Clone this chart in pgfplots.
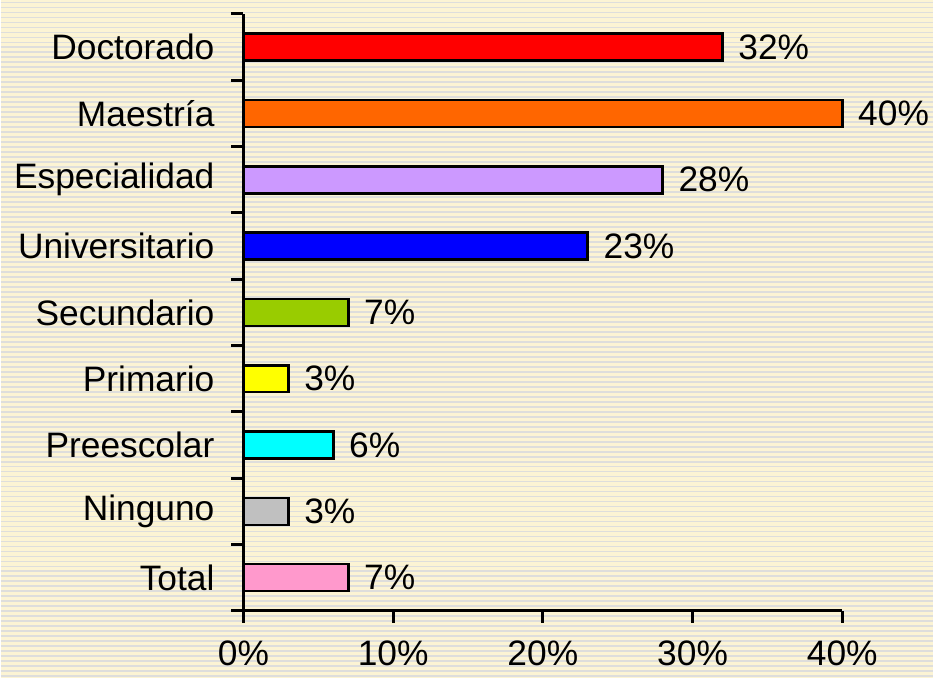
\documentclass[border=0pt]{standalone}
\usepackage{pgfplots}
\pgfplotsset{compat=1.18}
\usepackage{fontspec}
\setmainfont{Liberation Sans}
\definecolor{bgcream}{RGB}{252,244,212}
\definecolor{stripe}{RGB}{222,222,220}
\definecolor{cDoc}{RGB}{255,0,0}
\definecolor{cMae}{RGB}{255,102,0}
\definecolor{cEsp}{RGB}{204,153,255}
\definecolor{cUni}{RGB}{0,0,255}
\definecolor{cSec}{RGB}{153,204,0}
\definecolor{cPri}{RGB}{255,255,0}
\definecolor{cPre}{RGB}{0,255,255}
\definecolor{cNin}{RGB}{192,192,192}
\definecolor{cTot}{RGB}{255,153,204}
\begin{document}
\begin{tikzpicture}
\fill[bgcream] (-121.5pt,-33.5pt) rectangle (345.5pt,306pt);
\foreach \i in {0,...,135} {
  \draw[stripe, line width=0.9pt] (-121.5pt,{(306-2.5*\i-1.25)*1pt}) -- ++(467pt,0);
}
\useasboundingbox (-121.5pt,-33.5pt) rectangle (345.5pt,306pt);
\begin{axis}[
  at={(0,0)}, anchor=south west,
  scale only axis, width=300pt, height=299pt,
  xmin=0, xmax=40, ymin=-0.5, ymax=8.5,
  axis x line*=bottom, axis y line*=left,
  axis line style={line width=1.5pt, black},
  xbar, bar width=13.5pt, bar shift=0pt,
  xtick={0,10,20,30,40},
  xticklabel={\pgfmathprintnumber{\tick}\%},
  ytick={-0.5,0.5,1.5,2.5,3.5,4.5,5.5,6.5,7.5,8.5},
  yticklabels={},
  xtick align=outside, ytick align=outside,
  every tick/.style={black, line width=1.5pt},
  major tick length=6pt,
  extra y ticks={0,1,2,3,4,5,6,7,8},
  extra y tick labels={Total,Ninguno,Preescolar,Primario,Secundario,Universitario,Especialidad,Maestría,Doctorado},
  extra y tick style={major tick length=0pt, tick style={draw=none}},
  /pgf/number format/assume math mode=true,
  tick label style={font=\fontsize{17.7}{20}\selectfont, black},
  xticklabel style={yshift=-8pt, inner sep=1pt},
  yticklabel style={xshift=-11pt},
  point meta=x,
  nodes near coords={\pgfmathprintnumber{\pgfplotspointmeta}\%},
  nodes near coords align={horizontal},
  every node near coord/.append style={font=\fontsize{17.7}{20}\selectfont, black, xshift=4pt},
  clip=false,
]
\addplot[fill=cDoc, draw=black, line width=1.3pt] coordinates {(32,8)};
\addplot[fill=cMae, draw=black, line width=1.3pt] coordinates {(40,7)};
\addplot[fill=cEsp, draw=black, line width=1.3pt] coordinates {(28,6)};
\addplot[fill=cUni, draw=black, line width=1.3pt] coordinates {(23,5)};
\addplot[fill=cSec, draw=black, line width=1.3pt] coordinates {(7,4)};
\addplot[fill=cPri, draw=black, line width=1.3pt] coordinates {(3,3)};
\addplot[fill=cPre, draw=black, line width=1.3pt] coordinates {(6,2)};
\addplot[fill=cNin, draw=black, line width=1.3pt] coordinates {(3,1)};
\addplot[fill=cTot, draw=black, line width=1.3pt] coordinates {(7,0)};
\end{axis}
\end{tikzpicture}
\end{document}
